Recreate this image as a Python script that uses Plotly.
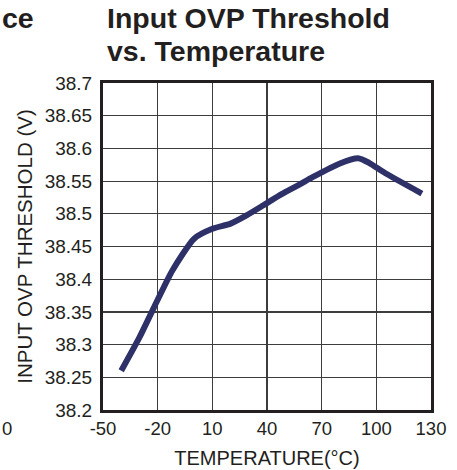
import plotly.graph_objects as go

# Data
temperature_c = [-40, -30, -22, -12, 0, 10, 20, 29, 38, 48, 58, 65, 80, 90, 96, 105, 125]
ovp_threshold_v = [38.26, 38.311, 38.357, 38.413, 38.462, 38.477, 38.485, 38.498, 38.513,
                   38.530, 38.545, 38.556, 38.577, 38.585, 38.578, 38.562, 38.531]

x_tick_vals = [-50, -20, 10, 40, 70, 100, 130]
x_tick_text = ["-50", "-20", "10", "40", "70", "100", "130"]
y_tick_vals = [38.2, 38.25, 38.3, 38.35, 38.4, 38.45, 38.5, 38.55, 38.6, 38.65, 38.7]
y_tick_text = ["38.2", "38.25", "38.3", "38.35", "38.4", "38.45", "38.5", "38.55", "38.6", "38.65", "38.7"]

FONT = "Liberation Sans, Arial, Helvetica, sans-serif"
INK = "#231f20"
GRID = "#3c3c3c"

fig = go.Figure()
fig.add_trace(go.Scatter(
    x=temperature_c, y=ovp_threshold_v, mode="lines",
    line=dict(color="#2e3168", width=6, shape="spline", smoothing=0.6),
    hoverinfo="skip", showlegend=False,
))

fig.update_layout(
    width=457, height=470,
    margin=dict(l=103, r=26, t=83, b=60, autoexpand=False),
    paper_bgcolor="white", plot_bgcolor="white",
    font=dict(family=FONT, color=INK),
    showlegend=False,
)

fig.update_xaxes(
    range=[-50, 130], tickvals=x_tick_vals, ticktext=x_tick_text,
    showgrid=True, gridcolor=GRID, gridwidth=1.2,
    showline=True, linecolor=INK, linewidth=3, mirror=True,
    ticks="", ticklabelstandoff=0, automargin=False,
    tickfont=dict(size=18.5, family=FONT, color=INK),
    title=dict(text="TEMPERATURE(°C)", font=dict(size=20, family=FONT, color=INK), standoff=13),
    zeroline=False,
)
fig.update_yaxes(
    range=[38.2, 38.7], tickvals=y_tick_vals, ticktext=y_tick_text,
    showgrid=True, gridcolor=GRID, gridwidth=1.2,
    showline=True, linecolor=INK, linewidth=3, mirror=True,
    ticks="", ticklabelstandoff=4, automargin=False,
    tickfont=dict(size=19, family=FONT, color=INK),
    title=dict(text="INPUT OVP THRESHOLD (V)", font=dict(size=20.5, family=FONT, color=INK), standoff=7),
    zeroline=False,
)

# Title (two lines) and text from the neighbouring chart
fig.add_annotation(text="<b>Input OVP Threshold</b>", xref="paper", yref="paper",
                   x=(105 - 103) / 328, y=(410 - 18) / 327, xanchor="left", yanchor="middle",
                   showarrow=False, font=dict(size=28.5, family=FONT, color=INK))
fig.add_annotation(text="<b>vs. Temperature</b>", xref="paper", yref="paper",
                   x=(105 - 103) / 328, y=(410 - 51) / 327, xanchor="left", yanchor="middle",
                   showarrow=False, font=dict(size=28.5, family=FONT, color=INK))
fig.add_annotation(text="<b>ce</b>", xref="paper", yref="paper",
                   x=(0 - 103) / 328, y=(410 - 18) / 327, xanchor="left", yanchor="middle",
                   showarrow=False, font=dict(size=28.5, family=FONT, color=INK))
fig.add_annotation(text="0", xref="paper", yref="paper",
                   x=(0 - 103) / 328, y=(410 - 428) / 327, xanchor="left", yanchor="middle",
                   showarrow=False, font=dict(size=18.5, family=FONT, color=INK))

fig.write_html("out.html", config={"displayModeBar": False, "staticPlot": True},
               post_script="document.body.style.margin='0';document.body.style.overflow='hidden';")
